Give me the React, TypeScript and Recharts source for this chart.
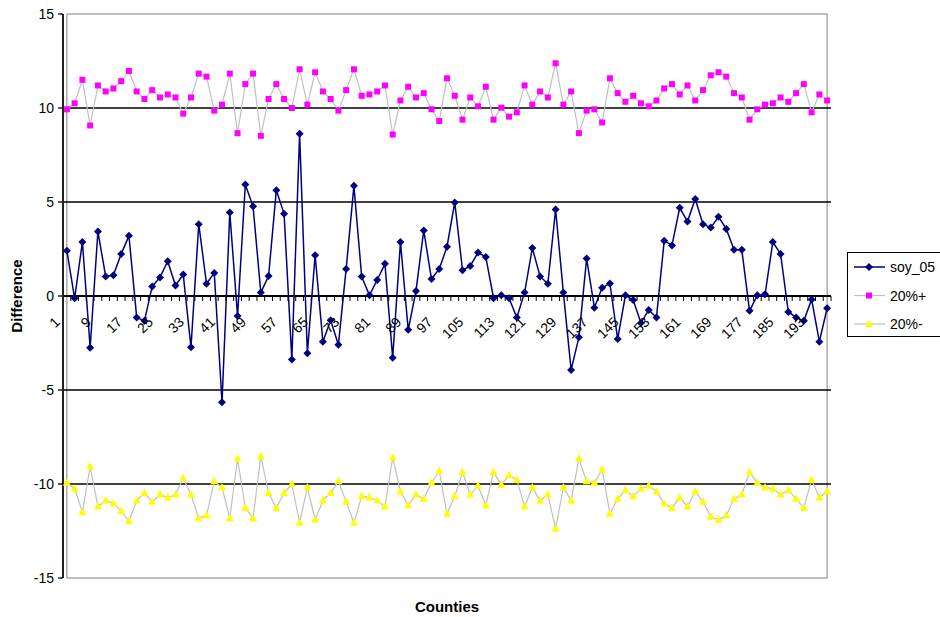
import React from 'react';
import {
  LineChart,
  Line,
  XAxis,
  YAxis,
  ReferenceLine,
  ReferenceArea,
  Legend,
} from 'recharts';

// county ids (every second county), labelled every 4th category
const counties = [
  1, 3, 5, 7, 9, 11, 13, 15, 17, 19, 21, 23, 25, 27, 29, 31, 33, 35, 37, 39,
  41, 43, 45, 47, 49, 51, 53, 55, 57, 59, 61, 63, 65, 67, 69, 71, 73, 75, 77, 79,
  81, 83, 85, 87, 89, 91, 93, 95, 97, 99, 101, 103, 105, 107, 109, 111, 113, 115, 117, 119,
  121, 123, 125, 127, 129, 131, 133, 135, 137, 139, 141, 143, 145, 147, 149, 151, 153, 155, 157, 159,
  161, 163, 165, 167, 169, 171, 173, 175, 177, 179, 181, 183, 185, 187, 189, 191, 193, 195, 197,
];

const xTickLabels = [
  1, 9, 17, 25, 33, 41, 49, 57, 65, 73, 81, 89, 97, 105, 113, 121, 129, 137, 145, 153, 161, 169, 177, 185, 193,
];

const yTicks = [-15, -10, -5, 0, 5, 10, 15];

const soy05 = [
  2.41, -0.12, 2.87, -2.75, 3.43, 1.04, 1.11, 2.24, 3.2, -1.14,
  -1.32, 0.51, 0.99, 1.85, 0.56, 1.14, -2.73, 3.82, 0.65, 1.23,
  -5.65, 4.44, -1.07, 5.93, 4.77, 0.18, 1.06, 5.63, 4.37, -3.38,
  8.63, -3.05, 2.17, -2.43, -1.29, -2.59, 1.44, 5.86, 1.04, 0.04,
  0.85, 1.71, -3.29, 2.87, -1.8, 0.26, 3.49, 0.9, 1.44, 2.62,
  4.98, 1.37, 1.6, 2.31, 2.08, -0.12, 0.04, -0.12, -1.14, 0.18,
  2.55, 1.04, 0.65, 4.6, 0.18, -3.93, -2.2, 1.99, -0.62, 0.44,
  0.67, -2.29, 0.04, -0.21, -1.44, -0.74, -1.14, 2.94, 2.69, 4.7,
  3.96, 5.16, 3.82, 3.64, 4.21, 3.57, 2.46, 2.46, -0.79, 0.04,
  0.09, 2.87, 2.24, -0.85, -1.14, -1.32, -0.18, -2.43, -0.65,
];

const plus20 = [
  9.93, 10.25, 11.5, 9.07, 11.2, 10.88, 11.04, 11.43, 11.97, 10.88,
  10.48, 10.95, 10.56, 10.72, 10.56, 9.7, 10.56, 11.83, 11.67, 9.86,
  10.18, 11.83, 8.66, 11.27, 11.83, 8.52, 10.48, 11.27, 10.48, 10.0,
  12.06, 10.18, 11.9, 10.88, 10.48, 9.86, 10.95, 12.06, 10.65, 10.72,
  10.88, 11.2, 8.59, 10.4, 11.13, 10.56, 10.79, 9.93, 9.31, 11.58,
  10.65, 9.38, 10.56, 10.09, 11.13, 9.38, 10.02, 9.54, 9.77, 11.2,
  10.18, 10.88, 10.56, 12.38, 10.18, 10.88, 8.66, 9.86, 9.93, 9.23,
  11.58, 10.79, 10.33, 10.65, 10.25, 10.09, 10.4, 11.04, 11.27, 10.72,
  11.2, 10.4, 10.95, 11.74, 11.9, 11.67, 10.79, 10.56, 9.38, 9.93,
  10.18, 10.25, 10.56, 10.33, 10.79, 11.27, 9.77, 10.72, 10.4,
];

const minus20 = [
  -9.93, -10.25, -11.5, -9.07, -11.2, -10.88, -11.04, -11.43, -11.97, -10.88,
  -10.48, -10.95, -10.56, -10.72, -10.56, -9.7, -10.56, -11.83, -11.67, -9.86,
  -10.18, -11.83, -8.66, -11.27, -11.83, -8.52, -10.48, -11.27, -10.48, -10.0,
  -12.06, -10.18, -11.9, -10.88, -10.48, -9.86, -10.95, -12.06, -10.65, -10.72,
  -10.88, -11.2, -8.59, -10.4, -11.13, -10.56, -10.79, -9.93, -9.31, -11.58,
  -10.65, -9.38, -10.56, -10.09, -11.13, -9.38, -10.02, -9.54, -9.77, -11.2,
  -10.18, -10.88, -10.56, -12.38, -10.18, -10.88, -8.66, -9.86, -9.93, -9.23,
  -11.58, -10.79, -10.33, -10.65, -10.25, -10.09, -10.4, -11.04, -11.27, -10.72,
  -11.2, -10.4, -10.95, -11.74, -11.9, -11.67, -10.79, -10.56, -9.38, -9.93,
  -10.18, -10.25, -10.56, -10.33, -10.79, -11.27, -9.77, -10.72, -10.4,
];

const data = counties.map((c, i) => ({
  county: c,
  soy_05: soy05[i],
  '20%+': plus20[i],
  '20%-': minus20[i],
}));

const FONT = '"Liberation Sans", Arial, sans-serif';
const W = 940;
const H = 617;
const PLOT_LEFT = 63;
const PLOT_RIGHT = 831;
const PLOT_TOP = 14;
const PLOT_BOTTOM = 578;
const ZERO_Y = (PLOT_TOP + PLOT_BOTTOM) / 2;
const BAND = (PLOT_RIGHT - PLOT_LEFT) / counties.length;

const Diamond = (props: any) => {
  const { cx, cy, index } = props;
  if (cx == null || cy == null) return <g key={`dm-${index}`} />;
  return (
    <polygon
      key={`dm-${index}`}
      points={`${cx},${cy - 4} ${cx + 4},${cy} ${cx},${cy + 4} ${cx - 4},${cy}`}
      fill="#000080"
    />
  );
};

const Square = (props: any) => {
  const { cx, cy, index } = props;
  if (cx == null || cy == null) return <g key={`sq-${index}`} />;
  return <rect key={`sq-${index}`} x={cx - 3} y={cy - 3} width={6} height={6} fill="#ff00ff" />;
};

const Triangle = (props: any) => {
  const { cx, cy, index } = props;
  if (cx == null || cy == null) return <g key={`tr-${index}`} />;
  return (
    <polygon
      key={`tr-${index}`}
      points={`${cx},${cy - 4.5} ${cx + 4},${cy + 3} ${cx - 4},${cy + 3}`}
      fill="#ffff00"
    />
  );
};

// x axis sits on the zero line: boundary tick marks + rotated labels
const CountyTick = (props: any) => {
  const { x, payload } = props;
  const tx = x + BAND / 2;
  const lx = x - 6;
  const ly = ZERO_Y + 27;
  return (
    <g>
      <line x1={tx} x2={tx} y1={ZERO_Y} y2={ZERO_Y + 5} stroke="#000" strokeWidth={1} />
      {xTickLabels.includes(payload.value) && (
        <text
          x={lx}
          y={ly}
          textAnchor="end"
          transform={`rotate(-45 ${lx} ${ly})`}
          fontFamily={FONT}
          fontSize={14}
          fill="#000"
        >
          {payload.value}
        </text>
      )}
    </g>
  );
};

const legendItems = [
  { name: 'soy_05', line: '#000080', marker: 'diamond' },
  { name: '20%+', line: '#c0c0c0', marker: 'square' },
  { name: '20%-', line: '#c0c0c0', marker: 'triangle' },
];

const LegendBox = () => (
  <div style={{ width: 100, height: 85, border: '1px solid #000', boxSizing: 'border-box', background: '#fff' }}>
    <svg width={98} height={83}>
      {legendItems.map((it, i) => {
        const y = 14 + i * 28.5;
        const mx = 21;
        return (
          <g key={it.name}>
            <line x1={6} x2={37} y1={y} y2={y} stroke={it.line} strokeWidth={it.marker === 'diamond' ? 1.5 : 1.2} />
            {it.marker === 'diamond' && (
              <polygon points={`${mx},${y - 4} ${mx + 4},${y} ${mx},${y + 4} ${mx - 4},${y}`} fill="#000080" />
            )}
            {it.marker === 'square' && <rect x={mx - 3} y={y - 3} width={6} height={6} fill="#ff00ff" />}
            {it.marker === 'triangle' && (
              <polygon points={`${mx},${y - 4.5} ${mx + 4},${y + 3} ${mx - 4},${y + 3}`} fill="#ffff00" />
            )}
            <text x={42} y={y + 5} fontFamily={FONT} fontSize={14} fill="#000">
              {it.name}
            </text>
          </g>
        );
      })}
    </svg>
  </div>
);

export default function App() {
  return (
    <div style={{ position: 'absolute', left: 0, top: 0, width: W, height: H, overflow: 'hidden', background: '#fff' }}>
      <LineChart width={W} height={H} data={data} margin={{ top: PLOT_TOP, right: W - PLOT_RIGHT, bottom: 0, left: 0 }}>
        <ReferenceArea y1={-15} y2={15} fill="none" stroke="#808080" strokeWidth={1} ifOverflow="extendDomain" />
        <ReferenceLine y={10} stroke="#000" strokeWidth={1.5} />
        <ReferenceLine y={5} stroke="#000" strokeWidth={1.5} />
        <ReferenceLine y={-5} stroke="#000" strokeWidth={1.5} />
        <ReferenceLine y={-10} stroke="#000" strokeWidth={1.5} />
        <ReferenceLine y={0} stroke="#000" strokeWidth={2} />
        <XAxis
          dataKey="county"
          height={H - PLOT_BOTTOM}
          interval={0}
          padding={{ left: BAND / 2, right: BAND / 2 }}
          axisLine={false}
          tickLine={false}
          tick={<CountyTick />}
          label={{ value: 'Counties', position: 'insideBottom', offset: 5, style: { fontFamily: FONT, fontSize: 15, fontWeight: 'bold', fill: '#000' } }}
        />
        <YAxis
          width={PLOT_LEFT}
          domain={[-15, 15]}
          ticks={yTicks}
          interval={0}
          axisLine={{ stroke: '#222', strokeWidth: 2 }}
          tickLine={{ stroke: '#222', strokeWidth: 1.5 }}
          tickSize={5}
          tickMargin={4}
          tick={{ fontFamily: FONT, fontSize: 14, fill: '#000' }}
          label={{ value: 'Difference', angle: -90, position: 'insideLeft', offset: 17, style: { textAnchor: 'middle', fontFamily: FONT, fontSize: 15, fontWeight: 'bold', fill: '#000' } }}
        />
        <Legend
          layout="vertical"
          align="center"
          verticalAlign="middle"
          wrapperStyle={{ left: 847, top: 252, width: 100, height: 85 }}
          content={<LegendBox />}
        />
        <Line
          type="linear"
          dataKey="20%+"
          stroke="#c0c0c0"
          strokeWidth={1.2}
          dot={Square}
          activeDot={false}
          isAnimationActive={false}
        />
        <Line
          type="linear"
          dataKey="20%-"
          stroke="#c0c0c0"
          strokeWidth={1.2}
          dot={Triangle}
          activeDot={false}
          isAnimationActive={false}
        />
        <Line
          type="linear"
          dataKey="soy_05"
          stroke="#000080"
          strokeWidth={1.5}
          dot={Diamond}
          activeDot={false}
          isAnimationActive={false}
        />
      </LineChart>
    </div>
  );
}
